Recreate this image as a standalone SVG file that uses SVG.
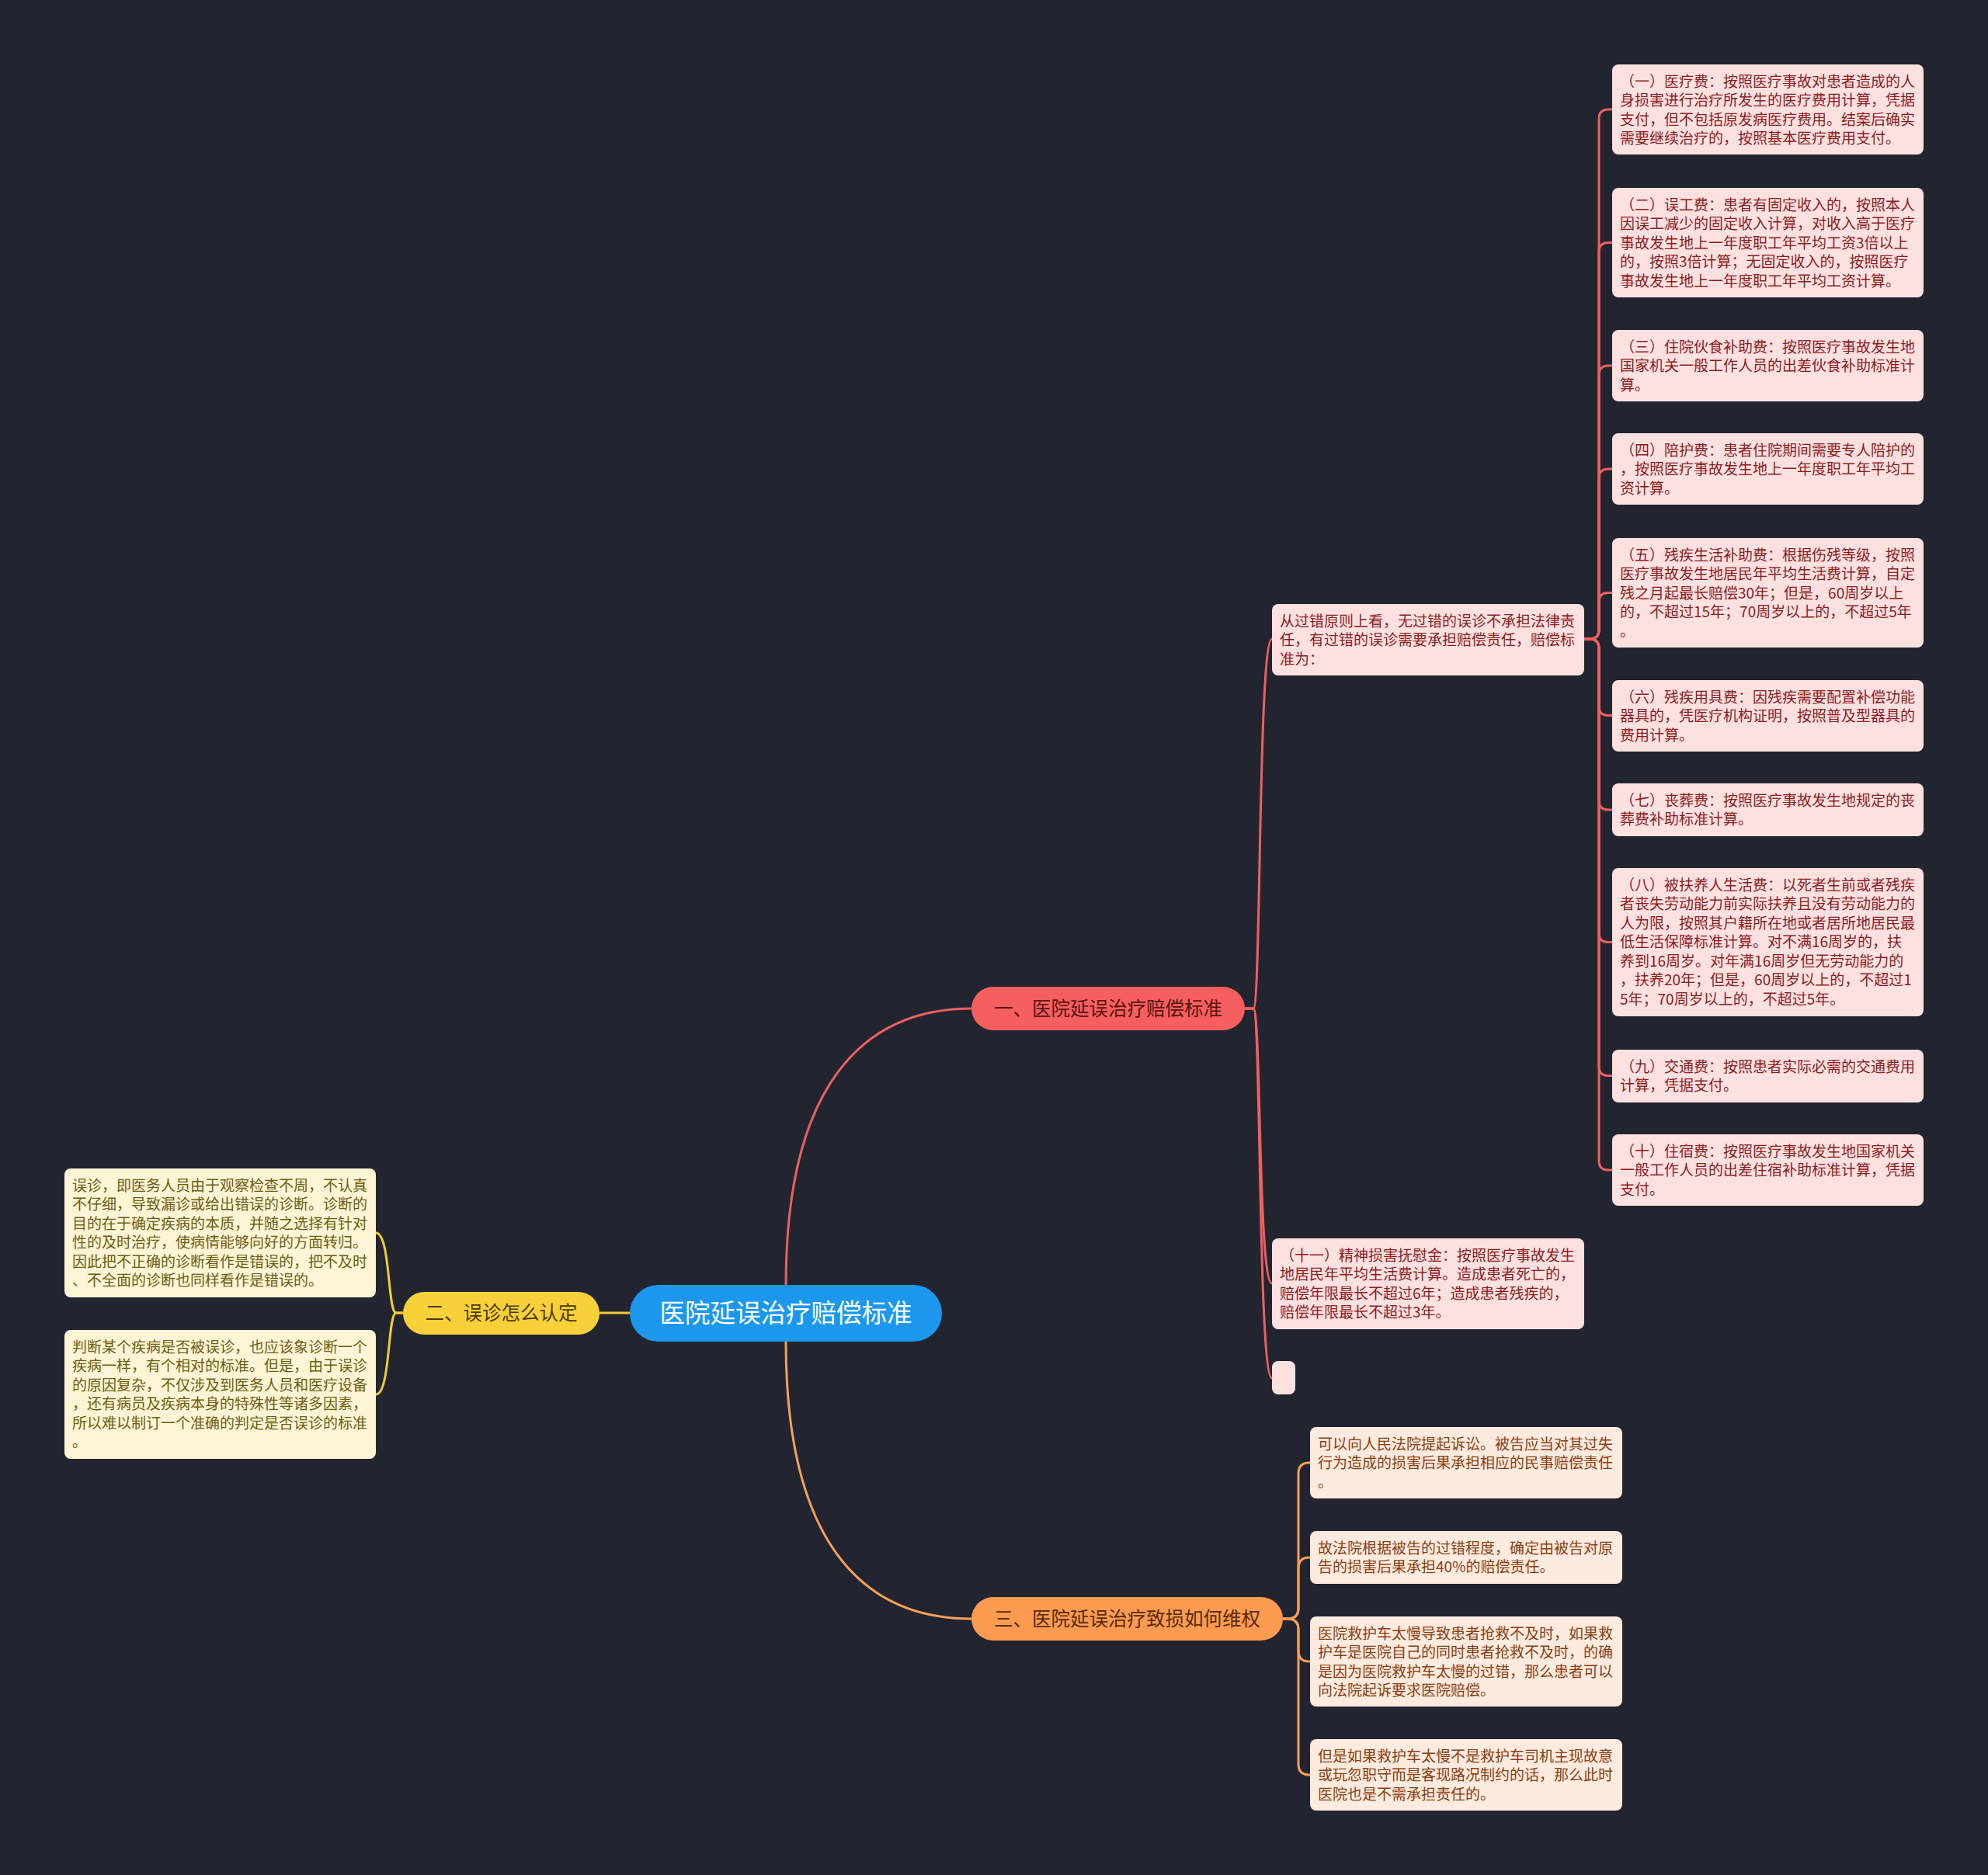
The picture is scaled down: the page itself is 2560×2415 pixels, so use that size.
<svg xmlns="http://www.w3.org/2000/svg" width="2560" height="2415" viewBox="0 0 2560 2415">
<style>
text{font-family:"Noto Sans CJK SC","Noto Sans",sans-serif;}
.lf{font-size:19px;}
.rl{fill:#fde1e1;}
.rt{fill:#8b1c1c;}
.yl{fill:#fdf5d6;}
.yt{fill:#6e5c10;}
.ol{fill:#fdebdf;}
.ot{fill:#8a3d10;}
.br{font-size:24.5px;text-anchor:middle;}
.cr{fill:none;stroke:#ee6060;stroke-width:3;}
.cy{fill:none;stroke:#f1cb38;stroke-width:3;}
.co{fill:none;stroke:#f7a05a;stroke-width:3;}
</style>
<rect x="0" y="0" width="2560" height="2415" fill="#222530"/>

<g id="connectors">
<path class="cr" d="M1012,1655 C1012,1400 1110,1299 1251,1299"/>
<path class="co" d="M1012,1728 C1012,1985 1110,2085 1251,2085"/>
<path class="cy" d="M811,1691 H772"/>
<path class="cr" d="M1603,1299 H1614 C1624,1299 1620,823 1638,823"/>
<path class="cr" d="M1603,1299 H1614 C1624,1299 1620,1653 1638,1653"/>
<path class="cr" d="M1603,1299 H1614 C1624,1299 1620,1775 1638,1775"/>
<path class="cr" d="M2040,823 H2047 Q2059,823 2059,811 V153 Q2059,141 2071,141 H2076"/>
<path class="cr" d="M2040,823 H2047 Q2059,823 2059,811 V324.5 Q2059,312.5 2071,312.5 H2076"/>
<path class="cr" d="M2040,823 H2047 Q2059,823 2059,811 V483 Q2059,471 2071,471 H2076"/>
<path class="cr" d="M2040,823 H2047 Q2059,823 2059,811 V616 Q2059,604 2071,604 H2076"/>
<path class="cr" d="M2040,823 H2047 Q2059,823 2059,811 V775.5 Q2059,763.5 2071,763.5 H2076"/>
<path class="cr" d="M2040,823 H2047 Q2059,823 2059,835 V909.5 Q2059,921.5 2071,921.5 H2076"/>
<path class="cr" d="M2040,823 H2047 Q2059,823 2059,835 V1031 Q2059,1043 2071,1043 H2076"/>
<path class="cr" d="M2040,823 H2047 Q2059,823 2059,835 V1201.5 Q2059,1213.5 2071,1213.5 H2076"/>
<path class="cr" d="M2040,823 H2047 Q2059,823 2059,835 V1373.5 Q2059,1385.5 2071,1385.5 H2076"/>
<path class="cr" d="M2040,823 H2047 Q2059,823 2059,835 V1495 Q2059,1507 2071,1507 H2076"/>
<path class="cy" d="M519,1691 H510 C499,1691 503,1588 484,1588"/>
<path class="cy" d="M519,1691 H510 C499,1691 503,1796 484,1796"/>
<path class="co" d="M1652,2085 H1658 Q1672,2085 1672,2071 V1898 Q1672,1884 1686,1884 H1687"/>
<path class="co" d="M1652,2085 H1658 Q1672,2085 1672,2071 V2020 Q1672,2006 1686,2006 H1687"/>
<path class="co" d="M1652,2085 H1658 Q1672,2085 1672,2099 V2126 Q1672,2140 1686,2140 H1687"/>
<path class="co" d="M1652,2085 H1658 Q1672,2085 1672,2099 V2272 Q1672,2286 1686,2286 H1687"/>
</g>

<g id="root">
<rect x="811" y="1655" width="402" height="73" rx="36.5" fill="#1b98ee"/>
<text x="1012" y="1703" font-size="32.5" text-anchor="middle" fill="#ffffff">医院延误治疗赔偿标准</text>
</g>

<g id="branch1">
<rect x="1251" y="1271" width="352" height="56" rx="28" fill="#f65f5f"/>
<text class="br" x="1427" y="1308" fill="#5a1212">一、医院延误治疗赔偿标准</text>
</g>
<g id="branch2">
<rect x="519" y="1664" width="253" height="55" rx="27.5" fill="#f8d03a"/>
<text class="br" x="645.5" y="1700" fill="#4a3b05">二、误诊怎么认定</text>
</g>
<g id="branch3">
<rect x="1251" y="2057" width="401" height="56" rx="28" fill="#fb9b52"/>
<text class="br" x="1451.5" y="2094" fill="#5a2a08">三、医院延误治疗致损如何维权</text>
</g>

<g id="n-guocuo">
<rect class="rl" x="1638" y="778" width="402" height="92" rx="8"/>
<text class="lf rt" x="1648"><tspan x="1648" y="806.5">从过错原则上看，无过错的误诊不承担法律责</tspan><tspan x="1648" y="831">任，有过错的误诊需要承担赔偿责任，赔偿标</tspan><tspan x="1648" y="855.5">准为：</tspan></text>
</g>
<g id="n-11">
<rect class="rl" x="1638" y="1595" width="402" height="117" rx="8"/>
<text class="lf rt"><tspan x="1648" y="1623.5">（十一）精神损害抚慰金：按照医疗事故发生</tspan><tspan x="1648" y="1648">地居民年平均生活费计算。造成患者死亡的，</tspan><tspan x="1648" y="1672.5">赔偿年限最长不超过6年；造成患者残疾的，</tspan><tspan x="1648" y="1697">赔偿年限最长不超过3年。</tspan></text>
</g>
<g id="n-empty">
<rect class="rl" x="1638" y="1753" width="30" height="43" rx="8"/>
</g>

<g id="n-1">
<rect class="rl" x="2076" y="83" width="401" height="116" rx="8"/>
<text class="lf rt"><tspan x="2086" y="111.5">（一）医疗费：按照医疗事故对患者造成的人</tspan><tspan x="2086" y="136">身损害进行治疗所发生的医疗费用计算，凭据</tspan><tspan x="2086" y="160.5">支付，但不包括原发病医疗费用。结案后确实</tspan><tspan x="2086" y="185">需要继续治疗的，按照基本医疗费用支付。</tspan></text>
</g>
<g id="n-2">
<rect class="rl" x="2076" y="242" width="401" height="141" rx="8"/>
<text class="lf rt"><tspan x="2086" y="270.5">（二）误工费：患者有固定收入的，按照本人</tspan><tspan x="2086" y="295">因误工减少的固定收入计算，对收入高于医疗</tspan><tspan x="2086" y="319.5">事故发生地上一年度职工年平均工资3倍以上</tspan><tspan x="2086" y="344">的，按照3倍计算；无固定收入的，按照医疗</tspan><tspan x="2086" y="368.5">事故发生地上一年度职工年平均工资计算。</tspan></text>
</g>
<g id="n-3">
<rect class="rl" x="2076" y="425" width="401" height="92" rx="8"/>
<text class="lf rt"><tspan x="2086" y="453.5">（三）住院伙食补助费：按照医疗事故发生地</tspan><tspan x="2086" y="478">国家机关一般工作人员的出差伙食补助标准计</tspan><tspan x="2086" y="502.5">算。</tspan></text>
</g>
<g id="n-4">
<rect class="rl" x="2076" y="558" width="401" height="92" rx="8"/>
<text class="lf rt"><tspan x="2086" y="586.5">（四）陪护费：患者住院期间需要专人陪护的</tspan><tspan x="2086" y="611">，按照医疗事故发生地上一年度职工年平均工</tspan><tspan x="2086" y="635.5">资计算。</tspan></text>
</g>
<g id="n-5">
<rect class="rl" x="2076" y="693" width="401" height="141" rx="8"/>
<text class="lf rt"><tspan x="2086" y="721.5">（五）残疾生活补助费：根据伤残等级，按照</tspan><tspan x="2086" y="746">医疗事故发生地居民年平均生活费计算，自定</tspan><tspan x="2086" y="770.5">残之月起最长赔偿30年；但是，60周岁以上</tspan><tspan x="2086" y="795">的，不超过15年；70周岁以上的，不超过5年</tspan><tspan x="2086" y="819.5">。</tspan></text>
</g>
<g id="n-6">
<rect class="rl" x="2076" y="876" width="401" height="92" rx="8"/>
<text class="lf rt"><tspan x="2086" y="904.5">（六）残疾用具费：因残疾需要配置补偿功能</tspan><tspan x="2086" y="929">器具的，凭医疗机构证明，按照普及型器具的</tspan><tspan x="2086" y="953.5">费用计算。</tspan></text>
</g>
<g id="n-7">
<rect class="rl" x="2076" y="1009" width="401" height="68" rx="8"/>
<text class="lf rt"><tspan x="2086" y="1037.5">（七）丧葬费：按照医疗事故发生地规定的丧</tspan><tspan x="2086" y="1062">葬费补助标准计算。</tspan></text>
</g>
<g id="n-8">
<rect class="rl" x="2076" y="1118" width="401" height="191" rx="8"/>
<text class="lf rt"><tspan x="2086" y="1146.5">（八）被扶养人生活费：以死者生前或者残疾</tspan><tspan x="2086" y="1171">者丧失劳动能力前实际扶养且没有劳动能力的</tspan><tspan x="2086" y="1195.5">人为限，按照其户籍所在地或者居所地居民最</tspan><tspan x="2086" y="1220">低生活保障标准计算。对不满16周岁的，扶</tspan><tspan x="2086" y="1244.5">养到16周岁。对年满16周岁但无劳动能力的</tspan><tspan x="2086" y="1269">，扶养20年；但是，60周岁以上的，不超过1</tspan><tspan x="2086" y="1293.5">5年；70周岁以上的，不超过5年。</tspan></text>
</g>
<g id="n-9">
<rect class="rl" x="2076" y="1352" width="401" height="68" rx="8"/>
<text class="lf rt"><tspan x="2086" y="1380.5">（九）交通费：按照患者实际必需的交通费用</tspan><tspan x="2086" y="1405">计算，凭据支付。</tspan></text>
</g>
<g id="n-10">
<rect class="rl" x="2076" y="1461" width="401" height="92" rx="8"/>
<text class="lf rt"><tspan x="2086" y="1489.5">（十）住宿费：按照医疗事故发生地国家机关</tspan><tspan x="2086" y="1514">一般工作人员的出差住宿补助标准计算，凭据</tspan><tspan x="2086" y="1538.5">支付。</tspan></text>
</g>

<g id="n-y1">
<rect class="yl" x="83" y="1505" width="401" height="166" rx="8"/>
<text class="lf yt"><tspan x="93" y="1533.5">误诊，即医务人员由于观察检查不周，不认真</tspan><tspan x="93" y="1558">不仔细，导致漏诊或给出错误的诊断。诊断的</tspan><tspan x="93" y="1582.5">目的在于确定疾病的本质，并随之选择有针对</tspan><tspan x="93" y="1607">性的及时治疗，使病情能够向好的方面转归。</tspan><tspan x="93" y="1631.5">因此把不正确的诊断看作是错误的，把不及时</tspan><tspan x="93" y="1656">、不全面的诊断也同样看作是错误的。</tspan></text>
</g>
<g id="n-y2">
<rect class="yl" x="83" y="1713" width="401" height="166" rx="8"/>
<text class="lf yt"><tspan x="93" y="1741.5">判断某个疾病是否被误诊，也应该象诊断一个</tspan><tspan x="93" y="1766">疾病一样，有个相对的标准。但是，由于误诊</tspan><tspan x="93" y="1790.5">的原因复杂，不仅涉及到医务人员和医疗设备</tspan><tspan x="93" y="1815">，还有病员及疾病本身的特殊性等诸多因素，</tspan><tspan x="93" y="1839.5">所以难以制订一个准确的判定是否误诊的标准</tspan><tspan x="93" y="1864">。</tspan></text>
</g>

<g id="n-o1">
<rect class="ol" x="1687" y="1838" width="402" height="92" rx="8"/>
<text class="lf ot"><tspan x="1697" y="1866.5">可以向人民法院提起诉讼。被告应当对其过失</tspan><tspan x="1697" y="1891">行为造成的损害后果承担相应的民事赔偿责任</tspan><tspan x="1697" y="1915.5">。</tspan></text>
</g>
<g id="n-o2">
<rect class="ol" x="1687" y="1972" width="402" height="68" rx="8"/>
<text class="lf ot"><tspan x="1697" y="2000.5">故法院根据被告的过错程度，确定由被告对原</tspan><tspan x="1697" y="2025">告的损害后果承担40%的赔偿责任。</tspan></text>
</g>
<g id="n-o3">
<rect class="ol" x="1687" y="2082" width="402" height="116" rx="8"/>
<text class="lf ot"><tspan x="1697" y="2110.5">医院救护车太慢导致患者抢救不及时，如果救</tspan><tspan x="1697" y="2135">护车是医院自己的同时患者抢救不及时，的确</tspan><tspan x="1697" y="2159.5">是因为医院救护车太慢的过错，那么患者可以</tspan><tspan x="1697" y="2184">向法院起诉要求医院赔偿。</tspan></text>
</g>
<g id="n-o4">
<rect class="ol" x="1687" y="2240" width="402" height="92" rx="8"/>
<text class="lf ot"><tspan x="1697" y="2268.5">但是如果救护车太慢不是救护车司机主现故意</tspan><tspan x="1697" y="2293">或玩忽职守而是客现路况制约的话，那么此时</tspan><tspan x="1697" y="2317.5">医院也是不需承担责任的。</tspan></text>
</g>
</svg>
